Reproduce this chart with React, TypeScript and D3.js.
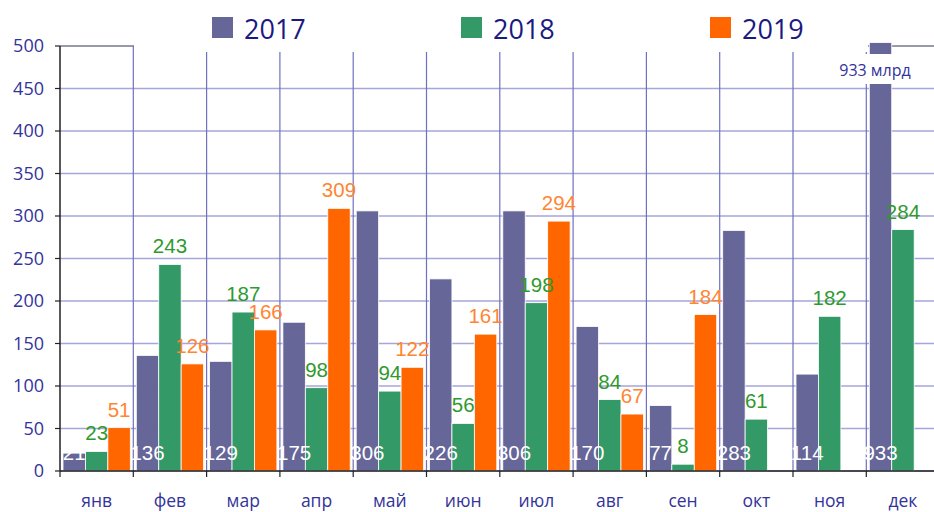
import * as d3 from "d3";

// months and values (млрд)
const months = ["янв", "фев", "мар", "апр", "май", "июн", "июл", "авг", "сен", "окт", "ноя", "дек"];
const years = ["2017", "2018", "2019"];
const v2017 = [21, 136, 129, 175, 306, 226, 306, 170, 77, 283, 114, 933];
const v2018 = [23, 243, 187, 98, 94, 56, 198, 84, 8, 61, 182, 284];
const v2019: (number | null)[] = [51, 126, 166, 309, 122, 161, 294, 67, 184, null, null, null];
const yTicks = [0, 50, 100, 150, 200, 250, 300, 350, 400, 450, 500];

const barColors = ["#666699", "#339966", "#ff6600"];
const labelColors = ["#ffffff", "#2e9a2e", "#ff8533"];
const navy = "#333399";
const labelFont = "'Liberation Sans Narrow', 'Liberation Sans', Arial, sans-serif";

export default function App() {
  const width = 934;
  const height = 512;
  const left = 60;
  const step = 73.3;
  const x0 = d3.scaleBand().domain(months).range([left, left + step * months.length]);
  const x1 = d3.scaleBand().domain(years).range([3, step - 3]);
  const y = d3.scaleLinear().domain([0, 500]).range([471, 46]);
  const yMax = 504;

  const series = [v2017, v2018, v2019];

  return (
    <svg width={width} height={height} style={{ position: "absolute", left: 0, top: 0, background: "#fff" }}>
      {/* horizontal grid */}
      {yTicks.map((t) => (
        <line key={"h" + t} x1={left} x2={width} y1={y(t)} y2={y(t)} stroke="#a6a6da" strokeWidth={1.7} />
      ))}
      {/* vertical grid at category boundaries */}
      {months.map((m) => (
        <line key={"v" + m} x1={x0(m)! + step} x2={x0(m)! + step} y1={y(500)} y2={y(0)} stroke="#7070c0" strokeWidth={1.2} />
      ))}
      {/* top frame line */}
      <line x1={left} x2={width} y1={y(500)} y2={y(500)} stroke="#777" strokeWidth={1.2} />

      {/* bars */}
      {series.map((vals, si) =>
        vals.map((v, i) =>
          v == null ? null : (
            <rect
              key={`b${si}-${i}`}
              x={x0(months[i])! + x1(years[si])!}
              width={x1.bandwidth()}
              y={y(Math.min(v, yMax))}
              height={y(0) - y(Math.min(v, yMax))}
              fill={barColors[si]}
              stroke="#fff"
              strokeWidth={0.8}
            />
          )
        )
      )}

      {/* legend area */}
      <rect x={134} y={0} width={734} height={52} fill="#fff" />
      {years.map((yr, i) => {
        const lx = [212, 461, 710][i];
        return (
          <g key={"lg" + yr}>
            <rect x={lx} y={17} width={21} height={21} fill={barColors[i]} />
            <text x={lx + 32} y={39} fontSize={27} fontFamily="'Open Sans', sans-serif" fill="#1a1a80">
              {yr}
            </text>
          </g>
        );
      })}

      {/* value labels */}
      {v2017.map((v, i) => (
        <text
          key={"l0" + i}
          x={x0(months[i])! + x1("2017")! + x1.bandwidth() / 2}
          y={460}
          textAnchor="middle"
          fontSize={20.5}
          fontFamily={labelFont}
          fill={labelColors[0]}
        >
          {v}
        </text>
      ))}
      {v2018.map((v, i) => (
        <text
          key={"l1" + i}
          x={x0(months[i])! + x1("2018")! + x1.bandwidth() / 2}
          y={y(v) - 11}
          textAnchor="middle"
          fontSize={20.5}
          fontFamily={labelFont}
          fill={labelColors[1]}
        >
          {v}
        </text>
      ))}
      {v2019.map((v, i) =>
        v == null ? null : (
          <text
            key={"l2" + i}
            x={x0(months[i])! + x1("2019")! + x1.bandwidth() / 2}
            y={y(v) - 11}
            textAnchor="middle"
            fontSize={20.5}
            fontFamily={labelFont}
            fill={labelColors[2]}
          >
            {v}
          </text>
        )
      )}

      {/* 933 млрд note */}
      <rect x={835} y={54} width={82} height={30} fill="#fff" />
      <text x={875} y={76} textAnchor="middle" fontSize={16} fontFamily="'Open Sans', sans-serif" fill={navy}>
        933 млрд
      </text>

      {/* y axis */}
      <line x1={left} x2={left} y1={y(500)} y2={y(0)} stroke="#222" strokeWidth={1.5} />
      {yTicks.map((t) => (
        <g key={"yt" + t}>
          <line x1={left - 5} x2={left} y1={y(t)} y2={y(t)} stroke="#222" strokeWidth={1.2} />
          <text x={44} y={y(t) + 6} textAnchor="end" fontSize={18} fontFamily="'Open Sans', sans-serif" fill={navy}>
            {t}
          </text>
        </g>
      ))}

      {/* x axis */}
      <line x1={left} x2={width} y1={y(0)} y2={y(0)} stroke="#222" strokeWidth={1.5} />
      {months.map((m) => (
        <g key={"xt" + m}>
          <line x1={x0(m)!} x2={x0(m)!} y1={y(0)} y2={y(0) + 6} stroke="#222" strokeWidth={1.2} />
          <text
            x={x0(m)! + step / 2}
            y={507}
            textAnchor="middle"
            fontSize={17.5}
            fontFamily="'Open Sans', sans-serif"
            fill={navy}
          >
            {m}
          </text>
        </g>
      ))}
    </svg>
  );
}
